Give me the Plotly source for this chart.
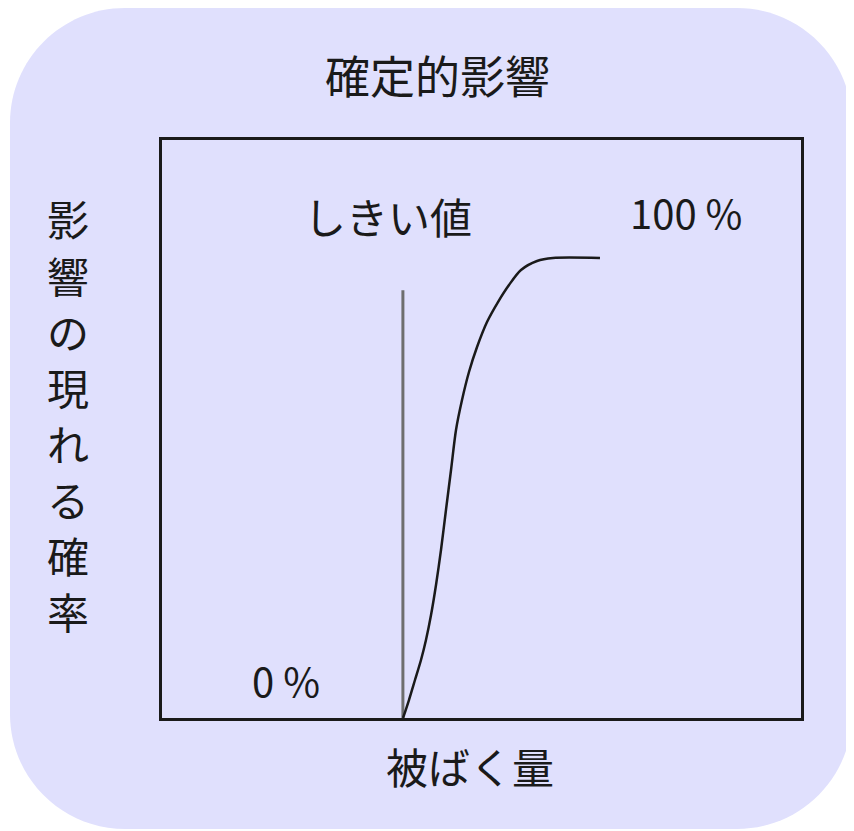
import plotly.graph_objects as go

# data (dose in arbitrary units, probability in %)
threshold_dose = 37.7
threshold_top = 93.0
dose = [37.72, 38.65, 39.59, 40.53, 41.31, 42.10, 42.88, 43.66, 44.44, 45.23, 46.01,
        46.95, 48.04, 49.30, 50.86, 52.58, 54.30, 56.18, 58.69, 61.19, 68.54]
prob = [0, 3.91, 8.26, 12.61, 16.96, 22.39, 28.91, 36.52, 45.22, 53.91, 62.61,
        69.13, 75.22, 80.65, 86.09, 90.43, 94.13, 97.39, 99.35, 100, 100]

title_text = "確定的影響"
x_label = "被ばく量"
y_label = "影響の現れる確率"
threshold_label = "しきい値"
top_label = "100 %"
bottom_label = "0 %"

# page body has an 8px margin, so the figure is a bit smaller and shifted
OFF = 8
W, H = 854 - OFF, 831 - OFF
L, R, T, B = 162, 801, 140, 718  # plot box in screen pixels
JP = "Noto Sans CJK JP"
LAV = "#e0e0fd"
INK = "#1a1a1a"


def px(x):
    return (x - L) / (R - L)


def py(y):
    return (B - y) / (B - T)


def rounded_rect(x0, y0, x1, y1, r):
    k = 0.5523 * r
    pts = [
        f"M{px(x0 + r)},{py(y0)}",
        f"L{px(x1 - r)},{py(y0)}",
        f"C{px(x1 - r + k)},{py(y0)} {px(x1)},{py(y0 + r - k)} {px(x1)},{py(y0 + r)}",
        f"L{px(x1)},{py(y1 - r)}",
        f"C{px(x1)},{py(y1 - r + k)} {px(x1 - r + k)},{py(y1)} {px(x1 - r)},{py(y1)}",
        f"L{px(x0 + r)},{py(y1)}",
        f"C{px(x0 + r - k)},{py(y1)} {px(x0)},{py(y1 - r + k)} {px(x0)},{py(y1 - r)}",
        f"L{px(x0)},{py(y0 + r)}",
        f"C{px(x0)},{py(y0 + r - k)} {px(x0 + r - k)},{py(y0)} {px(x0 + r)},{py(y0)}",
        "Z",
    ]
    return " ".join(pts)


fig = go.Figure()
fig.add_trace(go.Scatter(
    x=[threshold_dose, threshold_dose], y=[0, threshold_top], mode="lines",
    line=dict(color="#6e6e6e", width=3), hoverinfo="skip", showlegend=False,
))
fig.add_trace(go.Scatter(
    x=dose, y=prob, mode="lines", line=dict(color=INK, width=2.5, shape="spline", smoothing=0.8),
    showlegend=False,
))

shapes = [
    dict(type="path", xref="paper", yref="paper", path=rounded_rect(10, 8, 852, 829, 115),
         fillcolor=LAV, line=dict(width=0), layer="below"),
]

annotations = []


def label(text, x, y, size=42):
    annotations.append(dict(
        text=text, xref="paper", yref="paper", x=px(x), y=py(y),
        xanchor="center", yanchor="middle", showarrow=False,
        font=dict(family=JP, size=size, color=INK),
    ))


label(title_text, 437, 75, 45)
label(threshold_label, 388, 215)
label(top_label, 686, 212, 40)
label(bottom_label, 286, 680, 40)
label(x_label, 470, 765)
for i, ch in enumerate(y_label):
    label(ch, 68, 218 + i * 56.1)

axis = dict(showgrid=False, zeroline=False, showticklabels=False, ticks="",
            showline=True, mirror=True, linecolor=INK, linewidth=3)
fig.update_layout(
    width=W, height=H,
    margin=dict(l=L - OFF, r=W - (R - OFF), t=T - OFF, b=H - (B - OFF), pad=0),
    paper_bgcolor="white", plot_bgcolor="rgba(0,0,0,0)",
    xaxis=dict(range=[0, 100], **axis),
    yaxis=dict(range=[0, 100 * (B - T) / 460], **axis),
    shapes=shapes, annotations=annotations,
)
fig.write_html("out.html")
